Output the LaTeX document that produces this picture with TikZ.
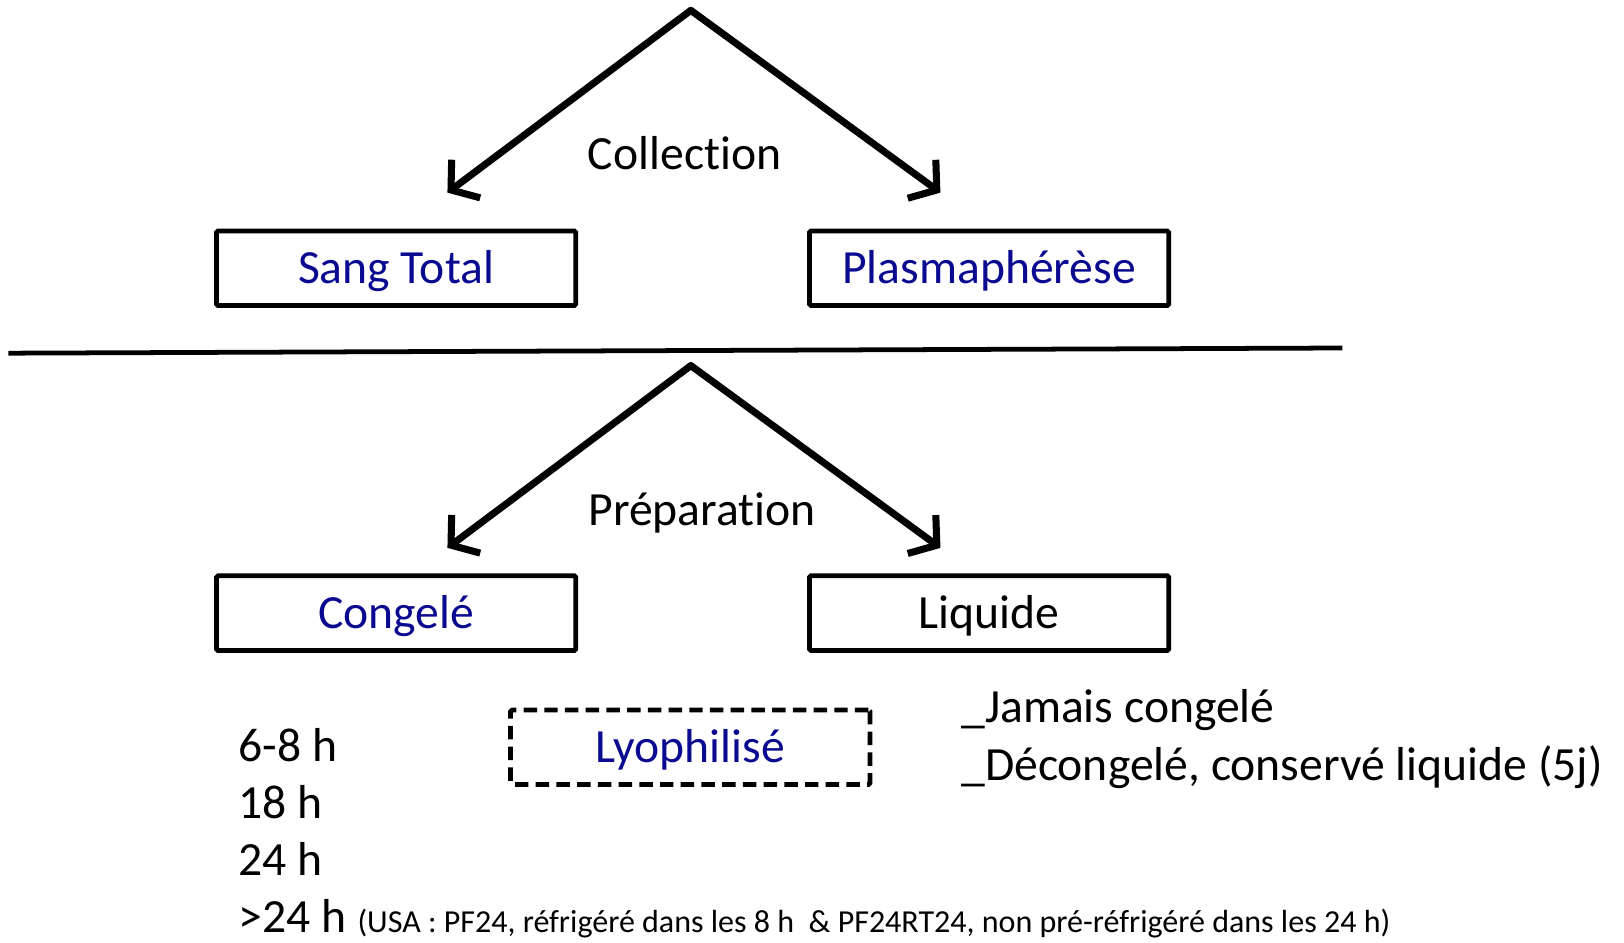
\documentclass[tikz,border=0pt]{standalone}
\usepackage{fontspec}
\setmainfont{Carlito}[RawFeature=-liga]
\usetikzlibrary{arrows.meta}
\definecolor{dblue}{RGB}{10,10,145}
\begin{document}
\begin{tikzpicture}[x=1pt,y=-1pt,
  big/.style={font=\fontsize{46}{54}\selectfont},
  box/.style={draw,line width=4.6pt,rounded corners=1.5pt,minimum width=347pt,minimum height=72pt,
    inner sep=0pt,text height=39pt,text depth=9.5pt,font=\fontsize{46}{54}\selectfont},
  dbox/.style={box,dash pattern=on 13pt off 7pt},
  arr/.style={line width=6.8pt,-{Straight Barb[length=18pt,width=46pt,line width=6.8pt]},line cap=round},
  lbl/.style={big,anchor=base,inner sep=0pt},
  lleft/.style={big,anchor=base west,inner sep=0pt}]
\useasboundingbox (0,0) rectangle (1568,910);
% top split
\coordinate (a1) at (667,10);
\coordinate (t1l) at (432,186);
\coordinate (t1r) at (908,186);
\draw[arr] (a1) -- (t1l);
\draw[arr] (a1) -- (t1r);
\node[lbl] (coll) at (661,164) {Collection};
\node[box,text=dblue] (sang) at (382.5,259) {Sang Total};
\node[box,text=dblue] (plasma) at (955,259) {Plasmaphérèse};
% separator
\coordinate (s1) at (8,341);
\coordinate (s2) at (1296,336);
\draw[line width=4.6pt] (s1) -- (s2);
% lower split
\coordinate (a2) at (667,353);
\coordinate (t2l) at (432,529);
\coordinate (t2r) at (908,529);
\draw[arr] (a2) -- (t2l);
\draw[arr] (a2) -- (t2r);
\node[lbl] (prep) at (678,507) {Préparation};
\node[box,text=dblue] (cong) at (382.5,592) {Congelé};
\node[box] (liq) at (955,592) {Liquide};
\node[dbox,text=dblue] (lyo) at (666.5,721.5) {Lyophilisé};
% right notes
\node[lleft] (n1) at (928,698) {\_Jamais congelé};
\node[lleft] (n2) at (928,754) {\_Décongelé, conservé liquide (5j)};
% left times
\node[lleft] (h1) at (230,735) {6-8 h};
\node[lleft] (h2) at (230,790) {18 h};
\node[lleft] (h3) at (230,845) {24 h};
\node[lleft] (h4) at (230,900) {>24 h};
\node[anchor=base west,inner sep=0pt] (usa) at (345,900)
  {\resizebox{997pt}{!}{\fontsize{28}{32}\selectfont (USA : PF24, réfrigéré dans les 8 h\ \ \& PF24RT24, non pré-réfrigéré dans les 24 h)}};
\end{tikzpicture}
\end{document}
